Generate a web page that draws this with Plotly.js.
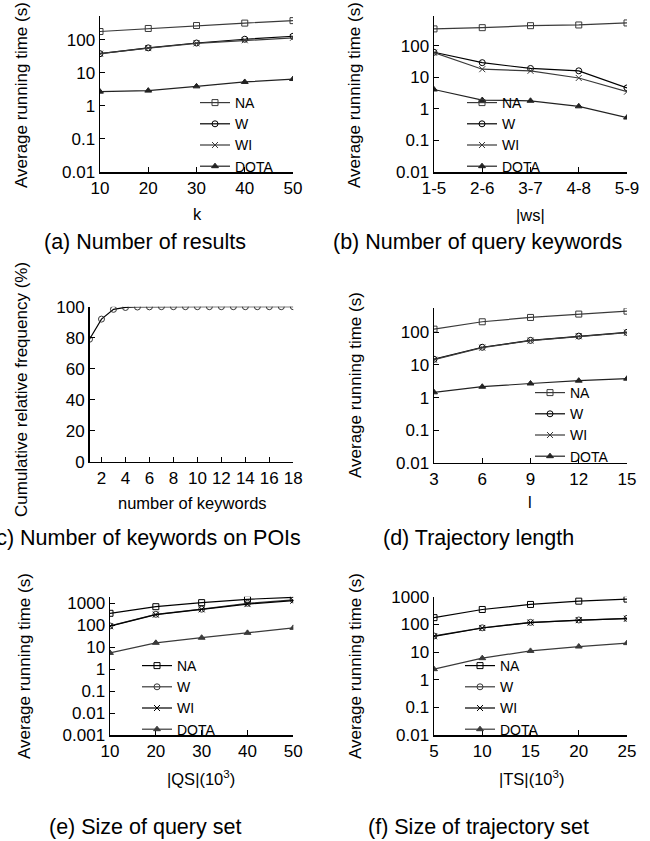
<!DOCTYPE html>
<html>
<head>
<meta charset="utf-8">
<script src="https://cdn.plot.ly/plotly-3.0.1.min.js"></script>
<style>html,body{margin:0;padding:0;background:#fff;}#chart{width:650px;height:841px;}</style>
</head>
<body>
<div id="chart"></div>
<script>
// ---------- data ----------
const seriesNames = ['NA', 'W', 'WI', 'DOTA'];

const kVals = [10, 20, 30, 40, 50];
const a_NA = [178, 220, 270, 320, 380];
const a_W = [38, 57, 80, 104, 128];
const a_WI = [38, 56, 78, 97, 115];
const a_DOTA = [2.7, 2.9, 3.9, 5.3, 6.5];

const wsCats = ['1-5', '2-6', '3-7', '4-8', '5-9'];
const b_NA = [340, 372, 430, 453, 525];
const b_W = [62, 29, 19, 16, 4.6];
const b_WI = [60, 18, 16, 9.5, 3.5];
const b_DOTA = [4.1, 1.9, 1.8, 1.2, 0.53];

const kwNums = [1, 2, 3, 4, 5, 6, 7, 8, 9, 10, 11, 12, 13, 14, 15, 16, 17, 18];
const c_freq = [79, 92, 98.3, 99.5, 99.8, 99.9, 100, 100, 100, 100, 100, 100, 100, 100, 100, 100, 100, 100];

const lVals = [3, 6, 9, 12, 15];
const d_NA = [126, 212, 288, 365, 450];
const d_W = [15, 35, 57, 77, 100];
const d_WI = [14.5, 34, 56, 76, 98];
const d_DOTA = [1.45, 2.15, 2.7, 3.3, 3.8];

const qsVals = [10, 20, 30, 40, 50];
const e_NA = [350, 700, 1070, 1520, 1870];
const e_W = [93, 315, 540, 1000, 1420];
const e_WI = [90, 305, 530, 920, 1320];
const e_DOTA = [5.5, 15.8, 27, 45, 76];

const tsVals = [5, 10, 15, 20, 25];
const f_NA = [175, 345, 525, 690, 820];
const f_W = [38, 75, 118, 144, 165];
const f_WI = [37, 74, 116, 142, 160];
const f_DOTA = [2.4, 6.0, 11, 15.8, 21];

const logTickVals = [0.001, 0.01, 0.1, 1, 10, 100, 1000];
const logTickText = ['0.001', '0.01', '0.1', '1', '10', '100', '1000'];

const yTitle = 'Average running time (s)';
const captions = ['(a) Number of results', '(b) Number of query keywords', '(c) Number of keywords on POIs',
                  '(d) Trajectory length', '(e) Size of query set', '(f) Size of trajectory set'];
const xTitles = ['k', '|ws|', 'number of keywords', 'l', '|QS|(10<sup>3</sup>)', '|TS|(10<sup>3</sup>)'];
const cYTitle = 'Cumulative relative frequency (%)';

// ---------- helpers ----------
const W = 650, H = 841;
const FONT = '"Liberation Sans", Arial, Helvetica, sans-serif';
const px = v => v / W;
const py = v => 1 - v / H;

const symbols = ['square-open', 'circle-open', 'x-thin', 'triangle-up'];
const colA = ['#3a3a3a', '#000', '#3a3a3a', '#222'];
const colB = ['#000', '#3a3a3a', '#000', '#3a3a3a'];

function panel(xs, ys, xa, ya, legendId, colors) {
  return ys.map((y, i) => ({
    type: 'scatter', mode: 'lines+markers',
    x: xs, y: y, name: seriesNames[i],
    xaxis: xa, yaxis: ya, legend: legendId,
    line: {color: colors[i], width: 1.2},
    marker: {symbol: symbols[i], size: 6, color: colors[i], line: {color: colors[i], width: 1}}
  }));
}

const traces = [].concat(
  panel(kVals, [a_NA, a_W, a_WI, a_DOTA], 'x', 'y', 'legend', colA),
  panel(wsCats, [b_NA, b_W, b_WI, b_DOTA], 'x2', 'y2', 'legend2', colA),
  [{type: 'scatter', mode: 'lines+markers', x: kwNums, y: c_freq, xaxis: 'x3', yaxis: 'y3',
    showlegend: false, line: {color: '#000', width: 1.2},
    marker: {symbol: 'circle-open', size: 6, color: '#333', line: {color: '#333', width: 1}}}],
  panel(lVals, [d_NA, d_W, d_WI, d_DOTA], 'x4', 'y4', 'legend3', colA),
  panel(qsVals, [e_NA, e_W, e_WI, e_DOTA], 'x5', 'y5', 'legend4', colB),
  panel(tsVals, [f_NA, f_W, f_WI, f_DOTA], 'x6', 'y6', 'legend5', colB)
);

const axBase = {
  showline: true, linecolor: '#000', linewidth: 1.5, mirror: false,
  showgrid: false, zeroline: false, ticks: 'inside', ticklen: 5, tickwidth: 1, tickcolor: '#000',
  tickfont: {family: FONT, size: 17, color: '#000'}, fixedrange: true
};
function xAxis(l, r, yanchor, extra) {
  return Object.assign({}, axBase, {domain: [px(l), px(r)], anchor: yanchor}, extra);
}
function yAxis(t, b, xanchor, extra) {
  return Object.assign({}, axBase, {domain: [py(b), py(t)], anchor: xanchor}, extra);
}
function logY(lo, hi) {
  return {type: 'log', range: [lo, hi], tickmode: 'array', tickvals: logTickVals, ticktext: logTickText};
}

function legendAt(x, y) {
  return {x: px(x), y: py(y), xanchor: 'left', yanchor: 'top', bgcolor: 'rgba(0,0,0,0)',
          borderwidth: 0, font: {family: FONT, size: 14, color: '#000'},
          tracegroupgap: 0, itemclick: false, itemdoubleclick: false};
}

const annFont = s => ({family: FONT, size: s, color: '#000'});
const annotations = [];
function ann(text, x, y, size, angle) {
  annotations.push({text: text, xref: 'paper', yref: 'paper', x: px(x), y: py(y),
    xanchor: 'center', yanchor: 'middle', showarrow: false, font: annFont(size), textangle: angle || 0});
}
// captions
ann(captions[0], 145, 242, 21.5);
ann(captions[1], 477, 242, 21.5);
ann(captions[2], 145, 538, 21.5);
ann(captions[3], 478, 538, 21.5);
ann(captions[4], 145, 827, 21.5);
ann(captions[5], 478, 827, 21.5);
// x titles
ann(xTitles[0], 197, 214, 16.5);
ann(xTitles[1], 530, 215, 16.5);
ann(xTitles[2], 192, 503, 16.5);
ann(xTitles[3], 530, 502, 16.5);
ann(xTitles[4], 201, 778, 16.5);
ann(xTitles[5], 531, 778, 16.5);
// y titles
ann(yTitle, 22, 95, 17, -90);
ann(yTitle, 355, 95, 17, -90);
ann(cYTitle, 21, 390, 17, -90);
ann(yTitle, 355, 385, 17, -90);
ann(yTitle, 24, 666, 17, -90);
ann(yTitle, 355, 666, 17, -90);

const layout = {
  width: W, height: H, margin: {l: 0, r: 0, t: 0, b: 0},
  paper_bgcolor: '#fff', plot_bgcolor: '#fff',
  font: {family: FONT, size: 16, color: '#000'},
  showlegend: true,
  xaxis: xAxis(100, 293, 'y', {range: [10, 50], tickvals: kVals}),
  yaxis: yAxis(16, 172, 'x', logY(-2, 2.72)),
  xaxis2: xAxis(434, 627, 'y2', {type: 'category', range: [0, 4]}),
  yaxis2: yAxis(16, 172, 'x2', logY(-2, 2.94)),
  xaxis3: xAxis(89.5, 293.3, 'y3', {range: [1, 18], tickvals: [2, 4, 6, 8, 10, 12, 14, 16, 18]}),
  yaxis3: yAxis(306.7, 461.7, 'x3', {range: [0, 100], tickvals: [0, 20, 40, 60, 80, 100]}),
  xaxis4: xAxis(434, 627, 'y4', {range: [3, 15], tickvals: lVals}),
  yaxis4: yAxis(308.3, 462.7, 'x4', logY(-2, 2.74)),
  xaxis5: xAxis(110, 293.3, 'y5', {range: [10, 50], tickvals: qsVals}),
  yaxis5: yAxis(596.7, 735, 'x5', logY(-3, 3.3)),
  xaxis6: xAxis(434, 627, 'y6', {range: [5, 25], tickvals: tsVals}),
  yaxis6: yAxis(596.7, 735, 'x6', logY(-2, 3)),
  legend: legendAt(195, 87),
  legend2: legendAt(462, 87),
  legend3: legendAt(530, 377),
  legend4: legendAt(137, 650),
  legend5: legendAt(460, 650),
  annotations: annotations
};

Plotly.newPlot('chart', traces, layout, {displayModeBar: false, staticPlot: true});
</script>
</body>
</html>
